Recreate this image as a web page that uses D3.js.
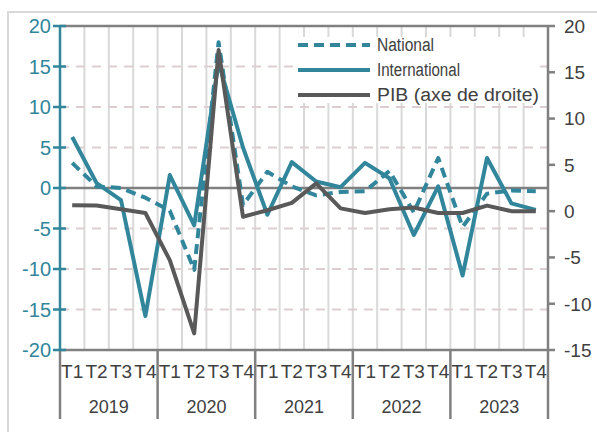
<!DOCTYPE html>
<html>
<head>
<meta charset="utf-8">
<script src="https://cdn.jsdelivr.net/npm/d3@7"></script>
<style>
  body { margin: 0; background: #fff; }
  text { font-family: "Liberation Sans", Arial, sans-serif; }
</style>
</head>
<body>
<div id="chart"></div>
<script>
// data
const years = ["2019", "2020", "2021", "2022", "2023"];
const quarters = ["T1", "T2", "T3", "T4"];
const national = [3.1, 0.2, 0.0, -1.2, -2.8, -10.1, 18.0, -2.1, 2.0, 0.2, -0.9, -0.5, -0.4, 2.1, -3.0, 3.7, -4.8, -0.7, -0.3, -0.4];
const international = [6.3, 0.6, -1.5, -15.8, 1.6, -4.6, 15.5, 5.0, -3.3, 3.2, 0.8, 0.1, 3.1, 1.2, -5.8, 0.2, -10.8, 3.7, -1.9, -2.7];
const pib = [0.65, 0.6, 0.2, -0.2, -5.3, -13.2, 17.4, -0.6, 0.1, 0.9, 3.0, 0.3, -0.2, 0.2, 0.4, -0.2, -0.2, 0.6, 0.0, 0.0];
const leftTicks = [20, 15, 10, 5, 0, -5, -10, -15, -20];
const rightTicks = [20, 15, 10, 5, 0, -5, -10, -15];

const teal = "#31869b", dark = "#595959", axisGrey = "#808080", textGrey = "#404040";

const W = 597, H = 432;
const m = {left: 60, right: 548, top: 26, bottom: 350};

const svg = d3.select("#chart")
  .append("svg")
  .attr("width", W)
  .attr("height", H);

// outer frame
svg.append("rect")
  .attr("x", 8).attr("y", 12)
  .attr("width", 620).attr("height", 450)
  .attr("fill", "none")
  .attr("stroke", "#d9d9d9")
  .attr("stroke-width", 2);

const cats = d3.range(years.length * quarters.length);
const x = d3.scaleBand().domain(cats).range([m.left, m.right]).padding(0);
const yL = d3.scaleLinear().domain([-20, 20]).range([m.bottom, m.top]);
const yR = d3.scaleLinear().domain([-15, 20]).range([m.bottom, m.top]);
const cx = i => x(i) + x.bandwidth() / 2;

// vertical gridlines between quarters
svg.append("g")
  .selectAll("line")
  .data(cats.slice(1))
  .join("line")
  .attr("x1", d => x(d)).attr("x2", d => x(d))
  .attr("y1", m.top).attr("y2", m.bottom)
  .attr("stroke", "#d9d9d9")
  .attr("stroke-width", 2);

// dashed horizontal gridlines
svg.append("g")
  .selectAll("line")
  .data(leftTicks.filter(d => d !== 0 && Math.abs(d) !== 20))
  .join("line")
  .attr("x1", m.left).attr("x2", m.right)
  .attr("y1", d => yL(d)).attr("y2", d => yL(d))
  .attr("stroke", "#dccfcf")
  .attr("stroke-width", 2)
  .attr("stroke-dasharray", "9,7");

// top line and zero line
svg.append("g")
  .selectAll("line")
  .data([20, 0])
  .join("line")
  .attr("x1", m.left).attr("x2", m.right)
  .attr("y1", d => yL(d)).attr("y2", d => yL(d))
  .attr("stroke", axisGrey)
  .attr("stroke-width", 2.5);

// bottom axis: quarters + years
svg.append("line")
  .attr("x1", m.left).attr("x2", m.right)
  .attr("y1", m.bottom).attr("y2", m.bottom)
  .attr("stroke", axisGrey).attr("stroke-width", 2.5);

svg.append("g")
  .selectAll("line")
  .data(d3.range(years.length + 1))
  .join("line")
  .attr("x1", d => d < years.length ? x(d * 4) : m.right)
  .attr("x2", d => d < years.length ? x(d * 4) : m.right)
  .attr("y1", m.bottom).attr("y2", 419)
  .attr("stroke", axisGrey).attr("stroke-width", 2.5);

svg.append("g")
  .selectAll("text")
  .data(cats)
  .join("text")
  .attr("x", d => cx(d))
  .attr("y", 378)
  .attr("text-anchor", "middle")
  .attr("font-size", "19px")
  .attr("fill", textGrey)
  .text(d => quarters[d % 4]);

svg.append("g")
  .selectAll("text")
  .data(years)
  .join("text")
  .attr("x", (d, i) => (x(i * 4) + x(i * 4 + 3) + x.bandwidth()) / 2)
  .attr("y", 413)
  .attr("text-anchor", "middle")
  .attr("font-size", "18px")
  .attr("fill", textGrey)
  .text(d => d);

// left axis (teal)
const gL = svg.append("g");
gL.append("line")
  .attr("x1", m.left).attr("x2", m.left)
  .attr("y1", m.top).attr("y2", m.bottom)
  .attr("stroke", teal).attr("stroke-width", 2.5);
gL.selectAll(".tk")
  .data(leftTicks)
  .join("line")
  .attr("class", "tk")
  .attr("x1", 53).attr("x2", 66)
  .attr("y1", d => yL(d)).attr("y2", d => yL(d))
  .attr("stroke", teal).attr("stroke-width", 2.5);
gL.selectAll("text")
  .data(leftTicks)
  .join("text")
  .attr("x", 51)
  .attr("y", d => yL(d))
  .attr("dy", "0.36em")
  .attr("text-anchor", "end")
  .attr("font-size", "20px")
  .attr("fill", teal)
  .text(d => d);

// right axis (grey)
const gR = svg.append("g");
gR.append("line")
  .attr("x1", m.right).attr("x2", m.right)
  .attr("y1", m.top).attr("y2", m.bottom)
  .attr("stroke", axisGrey).attr("stroke-width", 2.5);
gR.selectAll(".tk")
  .data(rightTicks)
  .join("line")
  .attr("class", "tk")
  .attr("x1", m.right).attr("x2", m.right + 7)
  .attr("y1", d => yR(d)).attr("y2", d => yR(d))
  .attr("stroke", axisGrey).attr("stroke-width", 2.5);
gR.selectAll("text")
  .data(rightTicks)
  .join("text")
  .attr("x", 564)
  .attr("y", d => yR(d))
  .attr("dy", "0.36em")
  .attr("font-size", "19px")
  .attr("fill", textGrey)
  .text(d => d);

// series
const series = [
  {name: "National", values: national, scale: yL, color: teal, dash: "10,6"},
  {name: "International", values: international, scale: yL, color: teal, dash: null},
  {name: "PIB (axe de droite)", values: pib, scale: yR, color: dark, dash: null}
];

svg.append("g")
  .selectAll("path")
  .data(series)
  .join("path")
  .attr("fill", "none")
  .attr("stroke", d => d.color)
  .attr("stroke-width", 4)
  .attr("stroke-linejoin", "round")
  .attr("stroke-dasharray", d => d.dash)
  .attr("d", s => d3.line()
    .x((v, i) => cx(i))
    .y(v => s.scale(v))(s.values));

// legend
const lg = svg.append("g");
lg.append("rect")
  .attr("x", 296).attr("y", 37)
  .attr("width", 242).attr("height", 66)
  .attr("fill", "#fff");
const rows = lg.selectAll("g")
  .data(series)
  .join("g")
  .attr("transform", (d, i) => `translate(298, ${45 + i * 25})`);
rows.append("line")
  .attr("x1", 0).attr("x2", 72)
  .attr("stroke", d => d.color)
  .attr("stroke-width", 4)
  .attr("stroke-dasharray", d => d.dash);
rows.append("text")
  .attr("x", 79)
  .attr("y", 0)
  .attr("dy", "0.36em")
  .attr("font-size", "18px")
  .attr("fill", textGrey)
  .attr("textLength", (d, i) => [57, 83, 162][i])
  .attr("lengthAdjust", "spacingAndGlyphs")
  .text(d => d.name);
</script>
</body>
</html>
